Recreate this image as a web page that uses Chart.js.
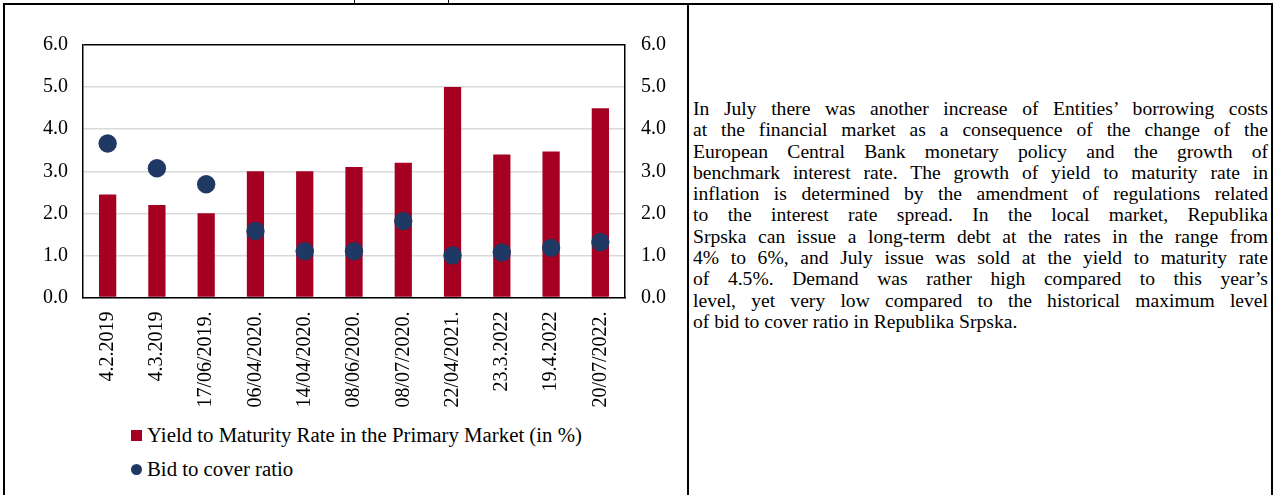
<!DOCTYPE html>
<html>
<head>
<meta charset="utf-8">
<script src="https://cdn.jsdelivr.net/npm/chart.js@4"></script>
<style>
  html, body { margin: 0; padding: 0; background: #fff; }
  body { width: 1274px; height: 495px; position: relative; overflow: hidden;
         font-family: 'Liberation Serif', 'Times New Roman', serif; color: #000; }
  .frame { position: absolute; left: 3px; top: 3px; width: 1266px; height: 520px;
           border: 2px solid #000; }
  .divider { position: absolute; left: 687px; top: 3px; width: 2px; height: 520px; background: #000; }
  .topcell { position: absolute; left: 354px; top: 0; width: 93px; height: 3px;
             border-left: 1px solid #000; border-right: 1px solid #000; }
  .chartbox { position: absolute; left: 5px; top: 5px; width: 680px; height: 410px; }
  .legend { position: absolute; left: 131px; top: 418px; font-size: 20.8px; }
  .legend div { display: flex; align-items: center; height: 34px; }
  .legend span.mk { display: inline-block; width: 11px; height: 11px; margin-right: 5px; }
  .text { position: absolute; left: 693px; top: 98px; width: 575px; font-size: 19.6px;
          line-height: 21.3px; }
  .text div { text-align: justify; text-align-last: justify; white-space: nowrap; height: 21.3px; }
  .text div:last-child { text-align-last: left; }
</style>
</head>
<body>
<div class="topcell"></div>
<div class="frame"></div>
<div class="divider"></div>
<div class="chartbox"><canvas id="chart"></canvas></div>
<div class="legend" id="legend"></div>
<div class="text">
<div>In July there was another increase of Entities’ borrowing costs</div>
<div>at the financial market as a consequence of the change of the</div>
<div>European Central Bank monetary policy and the growth of</div>
<div>benchmark interest rate. The growth of yield to maturity rate in</div>
<div>inflation is determined by the amendment of regulations related</div>
<div>to the interest rate spread. In the local market, Republika</div>
<div>Srpska can issue a long-term debt at the rates in the range from</div>
<div>4% to 6%, and July issue was sold at the yield to maturity rate</div>
<div>of 4.5%. Demand was rather high compared to this year’s</div>
<div>level, yet very low compared to the historical maximum level</div>
<div>of bid to cover ratio in Republika Srpska.</div>
</div>
<script>
// 数据
const dates = ['4.2.2019', '4.3.2019', '17/06/2019.', '06/04/2020.', '14/04/2020.', '08/06/2020.',
               '08/07/2020.', '22/04/2021.', '23.3.2022', '19.4.2022', '20/07/2022.'];
const yieldRate = [2.45, 2.2, 2.0, 3.0, 3.0, 3.1, 3.2, 5.0, 3.4, 3.47, 4.5];
const bidToCover = [3.66, 3.07, 2.69, 1.58, 1.1, 1.1, 1.82, 1.0, 1.07, 1.18, 1.32];
const yieldLabel = 'Yield to Maturity Rate in the Primary Market (in %)';
const bidLabel = 'Bid to cover ratio';
const axisMin = 0;
const axisMax = 6;
const axisStep = 1;

const barColor = '#A50021';
const dotColor = '#203864';
const font = { family: "'Liberation Serif', 'Times New Roman', serif", size: 20 };

const chart = new Chart(document.getElementById('chart'), {
    type: 'bar',
    data: {
        labels: dates,
        datasets: [{
            type: 'line',
            label: bidLabel,
            data: bidToCover,
            yAxisID: 'y1',
            showLine: false,
            pointRadius: 9.2,
            pointHoverRadius: 9.2,
            pointBackgroundColor: dotColor,
            pointBorderWidth: 0,
            borderColor: dotColor,
            order: 0
        }, {
            label: yieldLabel,
            data: yieldRate,
            yAxisID: 'y',
            backgroundColor: barColor,
            categoryPercentage: 1,
            barPercentage: 0.35,
            order: 1
        }]
    },
    options: {
        responsive: true,
        maintainAspectRatio: false,
        animation: false,
        layout: { padding: { top: 40, left: 0, right: 0, bottom: 0 } },
        plugins: { legend: { display: false }, tooltip: { enabled: false } },
        scales: {
            x: {
                grid: { display: false, drawTicks: false },
                border: { display: true, color: '#000', width: 1.5 },
                ticks: { color: '#000', font: font, minRotation: 90, maxRotation: 90,
                         autoSkip: false, padding: 14 },
                afterFit: s => { s.height = 117.5; }
            },
            y: {
                position: 'left',
                min: axisMin, max: axisMax,
                grid: {
                    drawTicks: false,
                    color: c => c.tick && c.tick.value === axisMax ? '#000' : '#d9d9d9',
                    lineWidth: 1.5
                },
                border: { display: true, color: '#000', width: 1.5 },
                ticks: { stepSize: axisStep, color: '#000', font: font, padding: 15,
                         callback: v => v.toFixed(1) },
                afterFit: s => { s.width = 78; }
            },
            y1: {
                position: 'right',
                min: axisMin, max: axisMax,
                grid: { display: false, drawTicks: false },
                border: { display: true, color: '#000', width: 1.5 },
                ticks: { stepSize: axisStep, color: '#000', font: font, padding: 16,
                         callback: v => v.toFixed(1) },
                afterFit: s => { s.width = 60; }
            }
        }
    }
});

// 图例
const legendEl = document.getElementById('legend');
[chart.data.datasets[1], chart.data.datasets[0]].forEach(ds => {
    const row = document.createElement('div');
    const mk = document.createElement('span');
    mk.className = 'mk';
    if (ds.type === 'line') {
        mk.style.background = ds.pointBackgroundColor;
        mk.style.borderRadius = '50%';
    } else {
        mk.style.background = ds.backgroundColor;
    }
    row.appendChild(mk);
    row.appendChild(document.createTextNode(ds.label));
    legendEl.appendChild(row);
});
</script>
</body>
</html>
